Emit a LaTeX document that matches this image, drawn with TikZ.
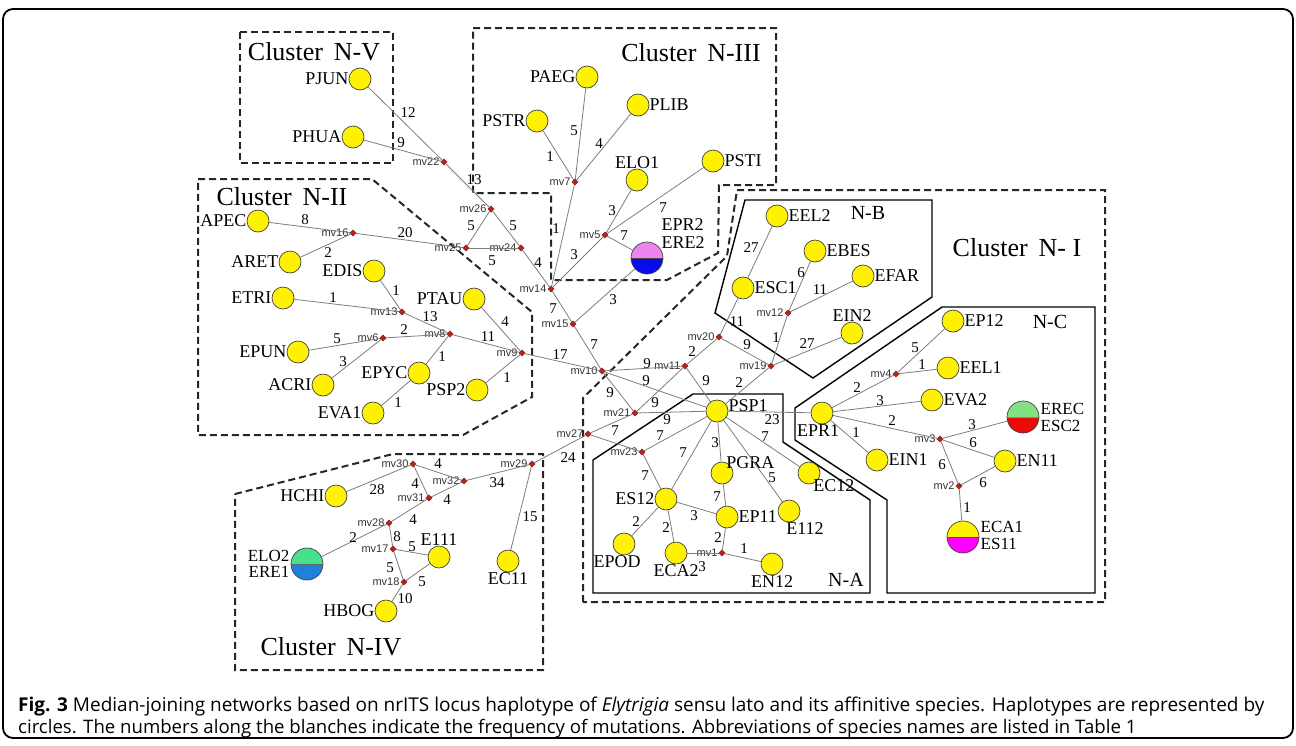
\documentclass[tikz,border=0pt]{standalone}
\usepackage{fontspec}
\setmainfont{Liberation Serif}
\newfontfamily\mvfont{Liberation Sans}
\newfontfamily\capfont{Open Sans}
\usetikzlibrary{shapes.geometric}
\definecolor{lnc}{RGB}{125,125,125}
\definecolor{mvc}{RGB}{185,35,25}
\definecolor{vio}{RGB}{238,130,238}
\definecolor{blu}{RGB}{10,10,235}
\definecolor{grn}{RGB}{70,225,140}
\definecolor{blu2}{RGB}{30,130,220}
\definecolor{lgrn}{RGB}{130,225,130}
\definecolor{rd}{RGB}{235,10,10}
\definecolor{mag}{RGB}{255,0,255}
\newcommand\hp[5][]{\node[hap,label={[lbl,name=t#2,#1]#5:#2}] (#2) at (#3,#4) {};}
\newcommand\mv[3]{\node[mvn,label={[mvl,name=t#1]left:#1}] (#1) at (#2,#3) {};}
\newcommand\ed[5]{\draw[ln] (#1) -- (#2); \node[num] (n#1#2) at (#4,#5) {#3};}
\newcommand\split[5]{\node[big,path picture={
  \fill[#3] (path picture bounding box.north west) rectangle (path picture bounding box.east);
  \fill[#4] (path picture bounding box.west) rectangle (path picture bounding box.south east);
  \draw[#5,line width=0.8pt] (path picture bounding box.west) -- (path picture bounding box.east);}] (#1) at #2 {};}
\begin{document}
\begin{tikzpicture}[x=1pt,y=-1pt,
 hap/.style={circle,draw=black!75,fill=yellow,minimum size=22pt,inner sep=0pt,line width=0.7pt},
 big/.style={circle,draw=black!75,minimum size=32pt,inner sep=0pt,line width=0.7pt},
 mvn/.style={diamond,fill=mvc,draw=mvc!70!black,minimum size=6.5pt,inner sep=0pt,line width=0.3pt},
 ln/.style={draw=lnc,line width=0.8pt},
 lbl/.style={font=\fontsize{18}{18}\selectfont,inner sep=0.5pt,label distance=-0.5pt},
 mvl/.style={font=\mvfont\fontsize{11}{11}\selectfont,text=black!80,inner sep=1pt},
 num/.style={font=\fontsize{15}{15}\selectfont,inner sep=0pt},
 ttl/.style={font=\fontsize{26}{26}\selectfont,inner sep=0pt},
 sub/.style={font=\fontsize{20}{20}\selectfont,inner sep=0pt},
 clu/.style={draw=black!85,line width=2pt,dash pattern=on 7pt off 4pt},
 grp/.style={draw=black,line width=1.4pt}]
\useasboundingbox (0,0) rectangle (1296,745);
\draw[line width=1.8pt,rounded corners=10pt] (3,9) rectangle (1293,738);

% cluster outlines
\draw[clu] (240,32) rectangle (393,163);
\draw[clu] (473,28) -- (776,28) -- (776,185) -- (719,185) -- (718,253) -- (667,280) -- (551,280) -- (551,193) -- (473,193) -- cycle;
\draw[clu] (198,179) -- (372,179) -- (532,312) -- (532,397) -- (463,435) -- (198,435) -- cycle;
\draw[clu] (235,494) -- (393,454) -- (543,454) -- (543,670) -- (235,670) -- cycle;
\draw[clu] (583,602) -- (583,398) -- (727,256) -- (737,190) -- (1105,190) -- (1105,602) -- cycle;
\draw[grp] (745,200) -- (932,200) -- (932,297) -- (813,378) -- (715,313) -- cycle;
\draw[grp] (942,307) -- (1095,307) -- (1095,593) -- (887,593) -- (887,500) -- (795,440) -- (795,408) -- cycle;
\draw[grp] (593,593) -- (593,460) -- (693,394) -- (783,394) -- (783,442) -- (870,500) -- (870,593) -- cycle;

% titles
\node[ttl] (T5) at (314,52) {Cluster\, N-V};
\node[ttl] (T3) at (691,53) {Cluster\, N-III};
\node[ttl] (T2) at (282,197) {Cluster\, N-II};
\node[ttl] (T4) at (331,647) {Cluster\, N-IV};
\node[ttl] (T1) at (1017,248) {Cluster\, N- I};
\node[sub] (TB) at (868,213) {N-B};
\node[sub] (TC) at (1050,322) {N-C};
\node[sub] (TA) at (846,580) {N-A};

% haplotypes
\hp{PJUN}{360}{79}{left}
\hp{PHUA}{353}{137}{left}
\hp{PAEG}{587}{77}{left}
\hp{PLIB}{638}{105}{right}
\hp{PSTR}{537}{121}{left}
\hp{ELO1}{637}{180}{above}
\hp{PSTI}{713}{161}{right}
\hp{APEC}{258}{221}{left}
\hp{ARET}{290}{262}{left}
\hp{EDIS}{374}{271}{left}
\hp{ETRI}{283}{298}{left}
\hp{PTAU}{474}{299}{left}
\hp{EPUN}{298}{352}{left}
\hp{ACRI}{323}{385}{left}
\hp{EPYC}{419}{373}{left}
\hp{PSP2}{477}{390}{left}
\hp{EVA1}{373}{413}{left}
\hp{EEL2}{777}{216}{right}
\hp{EBES}{815}{251}{right}
\hp{EFAR}{863}{276}{right}
\hp{ESC1}{743}{288}{right}
\hp{EIN2}{852}{333}{above}
\hp[yshift=5pt]{PSP1}{717}{411}{right}
\hp[xshift=-4pt]{EPR1}{822}{413}{below}
\hp{EP12}{953}{321}{right}
\hp{EEL1}{948}{368}{right}
\hp{EVA2}{932}{400}{right}
\hp{EIN1}{877}{460}{right}
\hp{EN11}{1005}{461}{right}
\hp[xshift=-4pt,yshift=2pt]{EC12}{809}{473}{below right}
\hp[xshift=16pt]{E112}{789}{511}{below}
\hp[xshift=-4pt,yshift=-4pt]{PGRA}{722}{473}{above right}
\hp{EP11}{727}{517}{right}
\hp{ES12}{666}{499}{left}
\hp[xshift=-7pt]{EPOD}{624}{544}{below}
\hp{ECA2}{676}{553}{below}
\hp{EN12}{772}{564}{below}
\hp{HCHI}{336}{496}{left}
\hp{E111}{439}{557}{above}
\hp{HBOG}{386}{611}{left}
\hp{EC11}{508}{561}{below}

\split{EPR2}{(647,258)}{vio}{blu}{black!70}
\split{ELO2}{(307,564)}{grn}{blu2}{black!60}
\split{EREC}{(1023,417)}{lgrn}{rd}{brown}
\split{ECA1}{(963,537)}{yellow}{mag}{red}
\node[lbl,align=left,anchor=west] (tEPR2) at (661,234) {EPR2\\ERE2};
\node[lbl,align=right,anchor=east,font=\fontsize{17}{16}\selectfont] (tELO2) at (290,564) {ELO2\\ERE1};
\node[lbl,align=left,anchor=west,font=\fontsize{17}{17}\selectfont] (tEREC) at (1040,417) {EREC\\ESC2};
\node[lbl,align=left,anchor=west,font=\fontsize{17}{17}\selectfont] (tECA1) at (980,535) {ECA1\\ES11};

% median vectors
\mv{mv22}{444}{162}
\mv{mv26}{491}{209}
\mv{mv7}{575}{182}
\mv{mv5}{605}{235}
\mv{mv25}{466}{248}
\mv{mv24}{521}{248}
\mv{mv16}{353}{233}
\mv{mv14}{551}{289}
\mv{mv15}{573}{324}
\mv{mv13}{402}{312}
\mv{mv8}{450}{334}
\mv{mv6}{383}{338}
\mv{mv9}{522}{353}
\mv{mv10}{602}{371}
\mv{mv11}{685}{366}
\mv{mv20}{719}{337}
\mv{mv19}{771}{366}
\mv{mv12}{788}{313}
\mv{mv21}{635}{413}
\mv{mv27}{588}{434}
\mv{mv23}{642}{452}
\mv{mv4}{896}{374}
\mv{mv3}{940}{439}
\mv{mv2}{959}{486}
\mv{mv1}{722}{553}
\mv{mv30}{413}{464}
\mv{mv32}{464}{481}
\mv{mv31}{429}{498}
\mv{mv28}{389}{523}
\mv{mv17}{393}{549}
\mv{mv18}{404}{582}
\mv{mv29}{532}{464}

% edges
\ed{PJUN}{mv22}{12}{408}{113}
\ed{PHUA}{mv22}{9}{401}{143}
\ed{mv22}{mv26}{13}{474}{180}
\ed{mv26}{mv25}{5}{471}{226}
\ed{mv26}{mv24}{5}{513}{226}
\ed{mv25}{mv24}{5}{492}{261}
\ed{mv24}{mv14}{4}{538}{263}
\ed{mv16}{mv25}{20}{405}{233}
\ed{APEC}{mv16}{8}{305}{220}
\ed{ARET}{mv16}{2}{328}{253}
\ed{PSTR}{mv7}{1}{550}{157}
\ed{PAEG}{mv7}{5}{574}{131}
\ed{PLIB}{mv7}{4}{599}{144}
\ed{mv7}{mv14}{1}{556}{229}
\ed{ELO1}{mv5}{3}{612}{211}
\ed{PSTI}{mv5}{7}{663}{208}
\ed{mv5}{EPR2}{7}{624}{236}
\ed{mv5}{mv14}{3}{574}{255}
\ed{mv14}{mv15}{7}{553}{309}
\ed{mv15}{EPR2}{3}{613}{300}
\ed{mv15}{mv10}{7}{594}{345}
\ed{EDIS}{mv13}{1}{396}{291}
\ed{ETRI}{mv13}{1}{333}{298}
\ed{mv13}{mv8}{13}{430}{317}
\ed{EPUN}{mv6}{5}{337}{339}
\ed{ACRI}{mv6}{3}{343}{362}
\ed{mv6}{mv8}{2}{404}{330}
\ed{EPYC}{mv8}{1}{442}{357}
\ed{EVA1}{EPYC}{1}{398}{403}
\ed{mv8}{mv9}{11}{488}{337}
\ed{PTAU}{mv9}{4}{505}{322}
\ed{PSP2}{mv9}{1}{507}{378}
\ed{mv9}{mv10}{17}{560}{355}
\ed{mv10}{mv11}{9}{647}{364}
\ed{mv10}{PSP1}{9}{646}{381}
\ed{mv10}{mv21}{9}{610}{393}
\ed{mv11}{PSP1}{9}{706}{381}
\ed{mv11}{mv21}{9}{655}{403}
\ed{mv11}{mv20}{2}{692}{352}
\ed{mv20}{ESC1}{11}{737}{322}
\ed{mv20}{mv19}{9}{747}{345}
\ed{EEL2}{ESC1}{27}{751}{248}
\ed{EBES}{mv12}{6}{801}{273}
\ed{EFAR}{mv12}{11}{820}{290}
\ed{mv12}{mv19}{1}{776}{338}
\ed{EIN2}{mv19}{27}{807}{344}
\ed{mv19}{PSP1}{2}{739}{383}
\ed{mv21}{PSP1}{9}{667}{420}
\ed{mv27}{mv21}{7}{615}{431}
\draw[ln] (mv27) -- (mv23);
\ed{mv23}{PSP1}{7}{660}{436}
\ed{mv23}{ES12}{7}{645}{476}
\ed{PSP1}{ES12}{7}{683}{453}
\ed{PSP1}{PGRA}{3}{715}{443}
\ed{PSP1}{E112}{5}{772}{478}
\ed{PSP1}{EC12}{7}{765}{437}
\ed{PSP1}{EPR1}{23}{772}{420}
\ed{mv29}{mv27}{24}{568}{458}
\ed{HCHI}{mv30}{28}{377}{490}
\ed{mv30}{mv32}{4}{438}{464}
\ed{mv30}{mv31}{4}{415}{484}
\ed{mv32}{mv31}{4}{447}{500}
\ed{mv32}{mv29}{34}{497}{483}
\ed{mv31}{mv28}{4}{413}{520}
\ed{mv28}{ELO2}{2}{353}{538}
\ed{mv28}{mv17}{8}{397}{537}
\ed{mv17}{E111}{5}{412}{547}
\ed{mv17}{mv18}{5}{390}{568}
\ed{mv18}{E111}{5}{422}{582}
\ed{mv18}{HBOG}{10}{405}{599}
\ed{mv29}{EC11}{15}{530}{517}
\ed{EPR1}{mv4}{2}{857}{388}
\ed{mv4}{EP12}{5}{915}{348}
\ed{mv4}{EEL1}{1}{922}{365}
\ed{EPR1}{EVA2}{3}{880}{401}
\ed{EPR1}{mv3}{2}{892}{421}
\ed{EPR1}{EIN1}{1}{856}{433}
\ed{mv3}{EREC}{3}{972}{425}
\ed{mv3}{EN11}{6}{973}{443}
\ed{mv3}{mv2}{6}{942}{465}
\ed{mv2}{EN11}{6}{983}{483}
\ed{mv2}{ECA1}{1}{967}{508}
\ed{ES12}{EPOD}{2}{636}{522}
\ed{ES12}{ECA2}{2}{666}{528}
\ed{ES12}{EP11}{3}{694}{516}
\ed{PGRA}{EP11}{7}{717}{497}
\ed{EP11}{mv1}{2}{718}{538}
\ed{ECA2}{mv1}{3}{702}{567}
\ed{mv1}{EN12}{1}{744}{549}

% caption
\node[anchor=west,inner sep=0pt,font=\capfont\fontsize{19}{19}\selectfont] (cap1) at (18,707) {\textbf{Fig. 3} Median-joining networks based on nrITS locus haplotype of \textit{Elytrigia} sensu lato and its affinitive species. Haplotypes are represented by};
\node[anchor=west,inner sep=0pt,font=\capfont\fontsize{18.6}{18.6}\selectfont] (cap2) at (18,729) {circles. The numbers along the blanches indicate the frequency of mutations. Abbreviations of species names are listed in Table 1};
\end{tikzpicture}
\end{document}
